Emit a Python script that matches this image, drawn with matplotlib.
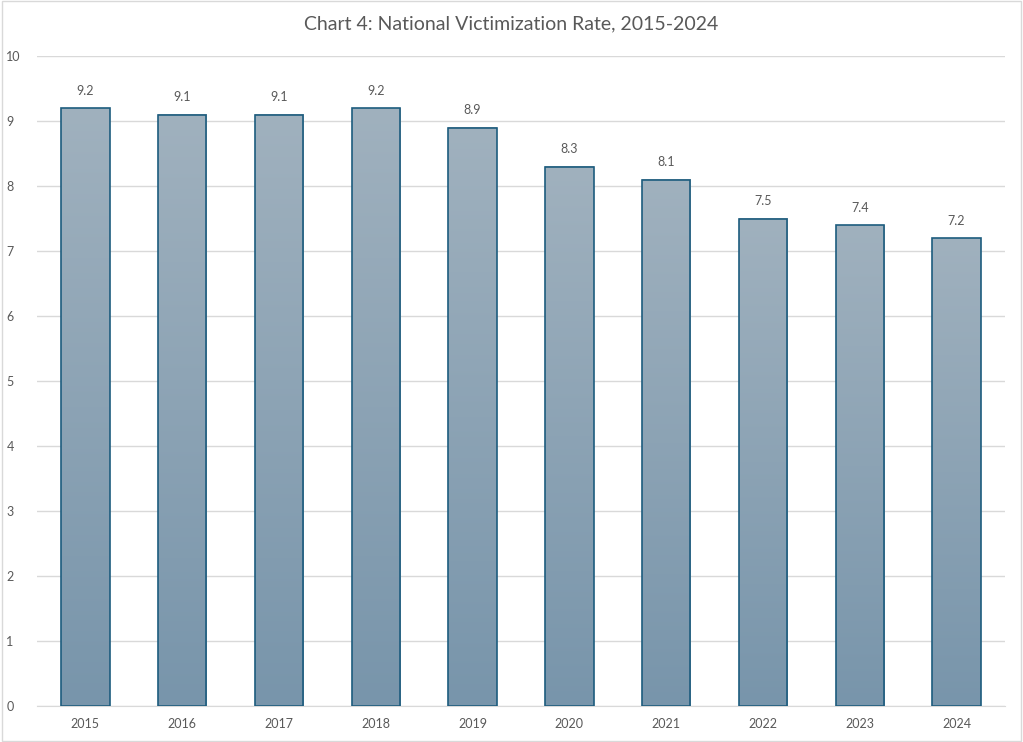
import numpy as np
import matplotlib.pyplot as plt
from matplotlib.patches import Rectangle
from matplotlib.colors import LinearSegmentedColormap

years = ['2015', '2016', '2017', '2018', '2019', '2020', '2021', '2022', '2023', '2024']
rates = [9.2, 9.1, 9.1, 9.2, 8.9, 8.3, 8.1, 7.5, 7.4, 7.2]
yticks = [0, 1, 2, 3, 4, 5, 6, 7, 8, 9, 10]

plt.rcParams['font.family'] = ['Lato', 'DejaVu Sans']
txt_col = '#595959'

fig = plt.figure(figsize=(10.23, 7.42), dpi=100)
ax = fig.add_axes([37 / 1023, 1 - 706 / 742, 968 / 1023, 650 / 742])

cmap = LinearSegmentedColormap.from_list('bar', ['#7895AB', '#A0B1BE'])
grad = np.linspace(0, 1, 256).reshape(-1, 1)
width = 0.5
x = np.arange(len(years))

for xi, v in zip(x, rates):
    ax.imshow(grad, cmap=cmap, aspect='auto', origin='lower',
              extent=[xi - width / 2, xi + width / 2, 0, v], zorder=2)
    ax.add_patch(Rectangle((xi - width / 2, 0), width, v, fill=False,
                           edgecolor='#1D5C7E', linewidth=1.2, zorder=3))
    ax.text(xi, v + 0.17, '{:.1f}'.format(v), ha='center', va='bottom',
            fontsize=9, color=txt_col)

ax.set_xlim(-0.5, len(years) - 0.5)
ax.set_ylim(0, 10)
ax.set_yticks(yticks)
ax.set_xticks(x)
ax.set_xticklabels(years)
ax.grid(axis='y', color='#D9D9D9', linewidth=1, zorder=0)
ax.set_axisbelow(True)
for s in ax.spines.values():
    s.set_visible(False)
ax.spines['bottom'].set_visible(True)
ax.spines['bottom'].set_color('#D9D9D9')
ax.tick_params(length=0, labelsize=9, colors=txt_col)
ax.tick_params(axis='y', pad=22)
ax.tick_params(axis='x', pad=9)
for lab in ax.get_yticklabels():
    lab.set_horizontalalignment('left')

fig.text(0.5, 1 - 24 / 742, 'Chart 4: National Victimization Rate, 2015-2024',
         ha='center', va='center', fontsize=14, color=txt_col)
fig.patches.append(Rectangle((0.002, 0.002), 0.996, 0.996, transform=fig.transFigure,
                             fill=False, edgecolor='#D9D9D9', linewidth=1))

plt.savefig('out.png', dpi=100)
